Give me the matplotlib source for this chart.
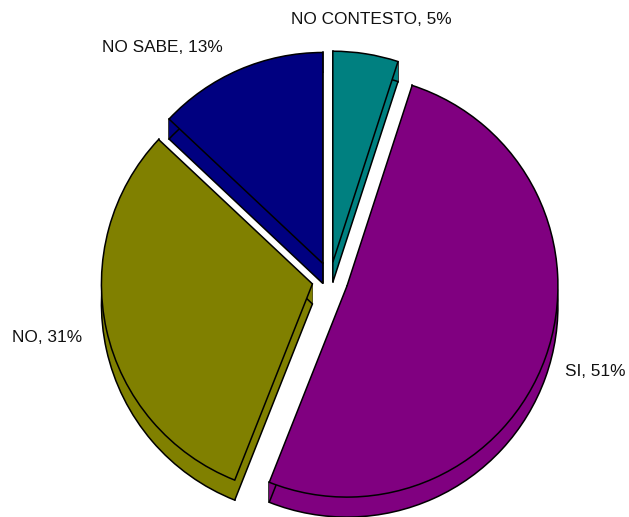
import numpy as np
import matplotlib
matplotlib.use("Agg")
import matplotlib.pyplot as plt

# Survey answers, clockwise from twelve o'clock
categories = ["NO CONTESTO", "SI", "NO", "NO SABE"]
percentages = [5, 51, 31, 13]
slice_colors = ["#008080", "#800080", "#808000", "#000080"]

W, H = 629, 517
fig = plt.figure(figsize=(W / 100, H / 100), dpi=100)
ax = fig.add_axes([0, 0, 1, 1])

cx, cy = 330, 237      # centre of the top face
radius = 211
offset = 18            # explode distance of every slice
depth = 20             # thickness of the disc
edge_lw = 1.1

explode = [offset] * len(percentages)
common = dict(radius=radius, explode=explode, startangle=90,
              counterclock=False, colors=slice_colors)

# body of the disc: stacked fills from the bottom up
for k in np.arange(depth, 0, -0.5):
    ax.pie(percentages, center=(cx, cy - k),
           wedgeprops=dict(edgecolor="none", linewidth=0), **common)

# outline of the bottom face
ax.pie(percentages, center=(cx, cy - depth),
       wedgeprops=dict(facecolor="none", edgecolor="black", linewidth=edge_lw),
       radius=radius, explode=explode, startangle=90, counterclock=False)

# top face
wedges, _ = ax.pie(percentages, center=(cx, cy),
                   wedgeprops=dict(edgecolor="black", linewidth=edge_lw), **common)

# vertical edges at the corners of each slice (hidden ones sit under the top face)
corner_lines = []
for w in wedges:
    wx, wy = w.center
    for ang in (w.theta1, w.theta2):
        px = wx + w.r * np.cos(np.radians(ang))
        py = wy + w.r * np.sin(np.radians(ang))
        corner_lines.append(((px, px), (py, py - depth)))
    corner_lines.append(((wx, wx), (wy, wy - depth)))
for xs, ys in corner_lines:
    ax.plot(xs, ys, color="black", lw=edge_lw, zorder=0.5)

# bring top faces above the corner lines
for w in wedges:
    w.set_zorder(1)

label_pos = {
    "NO CONTESTO": (371, 19, "center"),
    "SI": (565, 372, "left"),
    "NO": (12, 338, "left"),
    "NO SABE": (102, 47, "left"),
}
for cat, val in zip(categories, percentages):
    x, y, ha = label_pos[cat]
    ax.text(x, H - y, f"{cat}, {val}%", ha=ha, va="center",
            fontsize=12.4, family="Liberation Sans", color="#111111")

ax.set_xlim(0, W)
ax.set_ylim(0, H)
ax.set_aspect("equal")
ax.axis("off")

fig.savefig("out.png", dpi=100, facecolor="white")
